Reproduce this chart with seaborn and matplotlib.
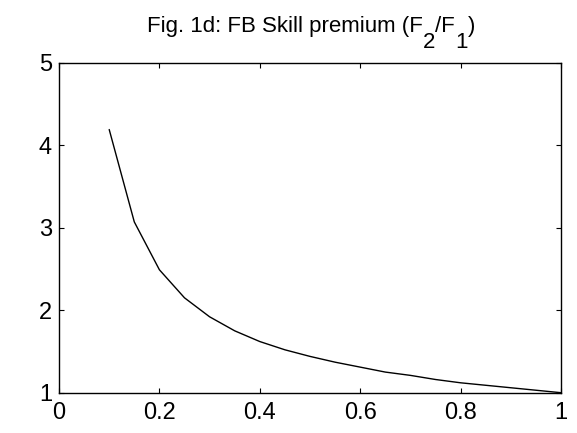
import matplotlib
matplotlib.use("Agg")
import matplotlib.pyplot as plt
from matplotlib.transforms import IdentityTransform
import seaborn as sns
import pandas as pd

x_vals = [0.10, 0.15, 0.20, 0.25, 0.30, 0.35, 0.40, 0.45, 0.50, 0.55,
          0.60, 0.65, 0.70, 0.75, 0.80, 0.85, 0.90, 0.95, 1.00]
premium = [4.19, 3.07, 2.49, 2.15, 1.92, 1.75, 1.62, 1.52, 1.44, 1.37,
           1.31, 1.25, 1.21, 1.16, 1.12, 1.09, 1.06, 1.03, 1.00]
x_ticks = [0, 0.2, 0.4, 0.6, 0.8, 1]
x_labels = ["0", "0.2", "0.4", "0.6", "0.8", "1"]
y_ticks = [1, 2, 3, 4, 5]
y_labels = ["1", "2", "3", "4", "5"]
# title pieces: (text, is_subscript)
title_parts = [("Fig. 1d: FB Skill premium (F", False), ("2", True),
               ("/F", False), ("1", True), (")", False)]

sns.set_theme(style="ticks")
plt.rcParams['font.family'] = ['Liberation Sans', 'DejaVu Sans']

df = pd.DataFrame({"x": x_vals, "y": premium})

W, H = 577, 433
fig = plt.figure(figsize=(W / 100, H / 100), dpi=100)
ax = fig.add_axes([59 / W, (H - 392.7) / H, (561 - 59) / W, (392.7 - 62.7) / H])
sns.lineplot(data=df, x="x", y="y", ax=ax, color="black", linewidth=1.0)
ax.set_xlim(0, 1)
ax.set_ylim(1, 5)
ax.set_xticks(x_ticks)
ax.set_xticklabels(x_labels)
ax.set_yticks(y_ticks)
ax.set_yticklabels(y_labels)
ax.set_xlabel("")
ax.set_ylabel("")
ax.tick_params(direction="in", top=True, right=True, labelsize=17, length=3.6,
               width=0.8, colors="black")
ax.tick_params(axis="x", pad=7)
ax.tick_params(axis="y", pad=5)
for s in ax.spines.values():
    s.set_visible(True)
    s.set_color("black")
    s.set_linewidth(1.0)

# title with full-size lowered subscripts (MATLAB style)
renderer = fig.canvas.get_renderer()
base_y = H - 32
sub_y = H - 48
texts = []
x = 0.0
for s, sub in title_parts:
    t = fig.text(x, sub_y if sub else base_y, s, fontsize=16, ha="left",
                 va="baseline", color="black", transform=IdentityTransform())
    w = t.get_window_extent(renderer).width
    texts.append(t)
    x += w
center = 311
start = center - x / 2
for t in texts:
    px, py = t.get_position()
    t.set_position((px + start, py))

fig.savefig("out.png", dpi=100)
